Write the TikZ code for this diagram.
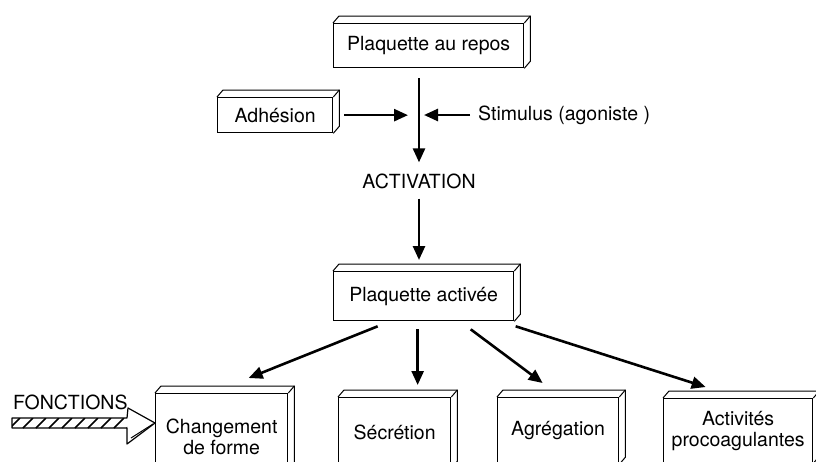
\documentclass[tikz,border=0pt]{standalone}
\usepackage{fontspec}
\setmainfont{TeX Gyre Heros}
\usetikzlibrary{arrows.meta}

\tikzset{
  bloc/.style={draw, line width=1.3pt, inner sep=0pt, align=center, anchor=north west},
  face/.style={line width=1pt},
  fleche/.style={line width=2.6pt, -{Triangle[length=14pt,width=12pt]}},
  texte/.style={inner sep=0pt},
}

\begin{document}
\begin{tikzpicture}[x=1pt, y=-1pt, font=\fontsize{19.5}{21}\selectfont]
        \path[use as bounding box, clip] (0,0) rectangle (816,461);
        % blocs
        \node[bloc, minimum width=190pt, minimum height=44pt] (repos) at (333,23) {Plaquette au repos};
        \node[bloc, minimum width=115pt, minimum height=35pt] (adh) at (217,97) {Adhésion};
        \node[bloc, minimum width=180pt, minimum height=49pt] (activ) at (333,271) {Plaquette activée};
        \node[bloc, minimum width=132pt, minimum height=87pt] (chg) at (155,393) {Changement\\de forme};
        \node[bloc, minimum width=112pt, minimum height=70pt] (sec) at (338,397) {Sécrétion};
        \node[bloc, minimum width=121pt, minimum height=66pt] (agr) at (497,397) {Agrégation};
        \node[bloc, minimum width=149pt, minimum height=64pt] (act) at (663,398) {Activités\\procoagulantes};
        \foreach \b in {repos,adh,activ,chg,sec,agr,act} {
                \draw[face] (\b.north west) -- ++(6,-7) -| ([xshift=6pt,yshift=7pt]\b.south east) -- (\b.south east);
                \draw[face] (\b.north east) -- ++(6,-7);
        }
        % textes
        \node[texte] (activation) at (419,181) {ACTIVATION};
        \node[texte, anchor=west] (stimulus) at (478,115) {Stimulus (agoniste )};
        \node[texte, anchor=base west] (fonctions) at (13,409) {FONCTIONS};
        \coordinate (j) at (419,115);
        % fleches
        \draw[fleche, shorten <=10pt, shorten >=11pt] (repos.south -| activation) -- (activation);
        \draw[fleche, shorten <=10pt, shorten >=11pt] (activation) -- (activ.north -| activation);
        \draw[fleche, shorten <=11pt, shorten >=11pt] (adh.east) -- (adh.east -| j);
        \draw[fleche, shorten <=8pt, shorten >=5pt] (stimulus.west) -- (stimulus.west -| j);
        \draw[fleche] ([xshift=-46pt,yshift=-5pt]activ.south) -- ([xshift=27pt,yshift=15pt]chg.north);
        \draw[fleche] ([xshift=-6pt,yshift=-8pt]activ.south) -- ([xshift=23pt,yshift=12pt]sec.north);
        \draw[fleche] ([xshift=47pt,yshift=-8pt]activ.south) -- ([xshift=-15.5pt,yshift=14pt]agr.north);
        \draw[fleche] ([xshift=92pt,yshift=-5pt]activ.south) -- ([xshift=-32.5pt,yshift=11pt]act.north);
        % fleche hachuree
        \begin{scope}
                \clip (12,418) rectangle (127,428);
                \foreach \i in {0,...,9}
                        \draw[line width=1.6pt] (\i*13+10,428) -- ++(10,-10);
        \end{scope}
        \draw[line width=1.2pt, line join=round] (12,418) -- (127,418) -- (128,408) -- (155,423) -- (127,444) -- (127,428) -- (12,428) -- cycle;
        \draw[face] (131,438) -- (153,424);
\end{tikzpicture}
\end{document}
